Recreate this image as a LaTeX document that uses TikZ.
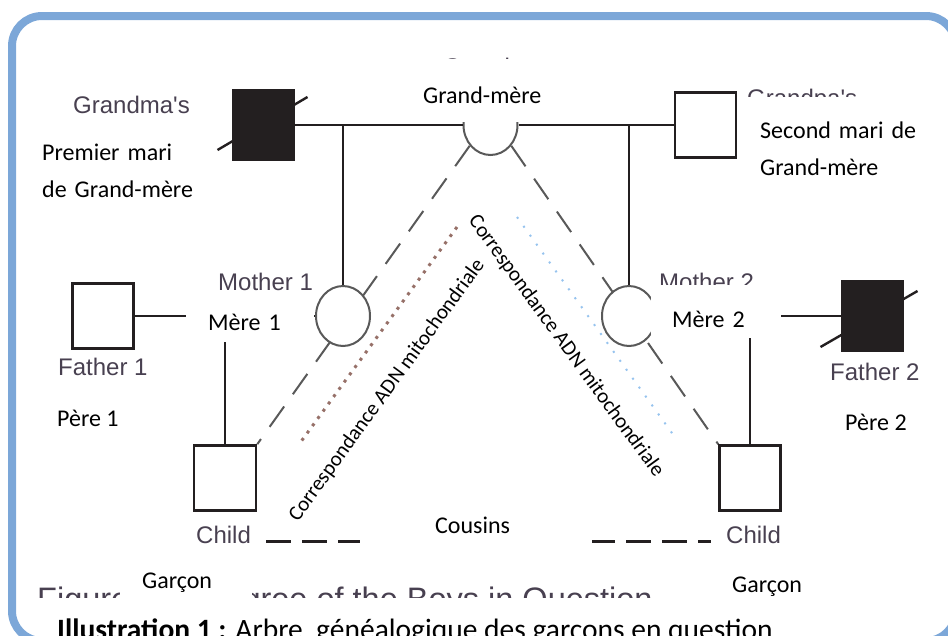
\documentclass[tikz,border=0pt]{standalone}
\usepackage{fontspec}
\setmainfont{Carlito}
\newfontfamily\engfont{Liberation Sans}
\usetikzlibrary{shapes.geometric, backgrounds}
\definecolor{frameblue}{RGB}{124,167,216}
\definecolor{inkblack}{RGB}{35,31,32}
\definecolor{oldtext}{RGB}{72,64,80}
\definecolor{mtbrown}{RGB}{150,112,104}
\definecolor{mtblue}{RGB}{150,195,238}
\tikzset{
  male/.style     = {draw=inkblack, line width=2.6pt, fill=white, shape=rectangle,
                     minimum width=61pt, minimum height=65pt, inner sep=0pt},
  maledead/.style = {male, fill=inkblack, minimum height=70pt},
  female/.style   = {draw=black!65, line width=2pt, fill=white, ellipse,
                     minimum width=54pt, minimum height=60pt, inner sep=0pt},
  link/.style     = {draw=inkblack, line width=2.6pt},
  slash/.style    = {draw=inkblack, line width=2.4pt},
  mtline/.style   = {draw=black!65, line width=2pt, dash pattern=on 25pt off 15pt},
  mtdotA/.style   = {draw=mtbrown, line width=3pt, dash pattern=on 3pt off 6pt},
  mtdotB/.style   = {draw=mtblue, line width=2pt, dash pattern=on 2pt off 9pt},
  cousin/.style   = {draw=inkblack, line width=3pt, dash pattern=on 25pt off 11pt},
  oldlbl/.style   = {font=\engfont\fontsize{24}{28}\selectfont, text=oldtext,
                     anchor=base west, inner sep=0pt},
  lbl/.style      = {font=\fontsize{24}{37}\selectfont, fill=white, align=left,
                     anchor=base west, inner ysep=0pt},
  mtlbl/.style    = {font=\fontsize{21}{25}\selectfont, anchor=base, inner sep=0pt},
}

\begin{document}
\begin{tikzpicture}[x=1pt, y=-1pt]
  \useasboundingbox (0,0) rectangle (948,635);
  % grandmother and her two husbands
  \node[maledead] (gf1) at (263.5,125) {};
  \node[female]   (gma) at (490.5,125) {};
  \node[male]     (gf2) at (705.5,125) {};
  % mothers and fathers
  \node[male]     (f1) at (103,316) {};
  \node[female]   (m1) at (343,316) {};
  \node[female]   (m2) at (629,316) {};
  \node[maledead] (f2) at (872.5,316) {};
  % the two boys
  \node[male, minimum width=62pt] (c1) at (225,478) {};
  \node[male]                     (c2) at (750,478) {};

  % old english labels (partly hidden)
  \node[oldlbl] (oGma)  at (73,113)  {Grandma's};
  \node[oldlbl] (oGtop) at (443,75)  {Grandma};
  \node[oldlbl] (oGpa)  at (747,106) {Grandpa's};
  \node[oldlbl] (oM1)   at (218,290) {Mother 1};
  \node[oldlbl] (oM2)   at (659,290) {Mother 2};
  \node[oldlbl] (oF1)   at (58,375)  {Father 1};
  \node[oldlbl] (oF2)   at (830,380) {Father 2};
  \node[oldlbl] (oC1)   at (196,543) {Child};
  \node[oldlbl] (oC2)   at (726,543) {Child};
  \node[oldlbl, font=\engfont\fontsize{32.5}{36}\selectfont] (oFig) at (37,610)
    {Figure 1. Pedigree of the Boys in Question};

  % pedigree lines
  \draw[link] (gf1) -- (gma);
  \draw[link] (gma) -- (gf2);
  \draw[link] (m1.north) -- (m1.north |- gma.center);
  \draw[link] (m2.north) -- (m2.north |- gma.center);
  \draw[link] (f1) -- (m1);
  \draw[link] (m2) -- (f2);
  \draw[link] (c1.north) -- (c1.north |- m1.center);
  \draw[link] (c2.north) -- (c2.north |- m2.center);
  \draw[slash] ([shift={(-46,25)}]gf1.center) -- ([shift={(44,-28)}]gf1.center);
  \draw[slash] ([shift={(-52,31)}]f2.center) -- ([shift={(45,-25)}]f2.center);
  \draw[cousin] ([shift={(9,30)}]c1.south east) -- ([shift={(-7,30)}]c2.south west);

  % mitochondrial lines
  \coordinate (dotA1) at (457,227);
  \coordinate (dotA2) at (300,443);
  \coordinate (dotB1) at (517,217);
  \coordinate (dotB2) at (677,440);
  \begin{scope}[on background layer]
    \draw[mtline] (gma.-135) -- (c1.north east);
    \draw[mtline] (gma.-45) -- (c2.north west);
    \draw[mtdotA] (dotA1) -- (dotA2);
    \draw[mtdotB] (dotB1) -- (dotB2);
  \end{scope}
  \node[mtlbl, rotate=54]  (mtL) at (391.5,393.5) {Correspondance ADN mitochondriale};
  \node[mtlbl, rotate=-54] (mtR) at (561.5,349.6) {Correspondance ADN mitochondriale};

  % french labels
  \node[lbl, inner xsep=20pt, text height=44pt, text depth=19pt] (tGma) at (403,103) {Grand-mère};
  \node[lbl, inner xsep=8pt, text width=160pt, text height=40pt, text depth=50pt] (tPm) at (34,160)
    {Premier mari\\de Grand-mère};
  \node[lbl, inner xsep=14pt, text width=170pt, text height=41pt, text depth=52pt] (tSm) at (746,138)
    {Second mari de\\Grand-mère};
  \node[lbl, inner xsep=22pt, text width=84pt, text height=38pt, text depth=12pt] (tM1) at (186,330) {Mère 1};
  \node[lbl, inner xsep=21pt, text width=88pt, text height=42pt, text depth=11pt] (tM2) at (651,327) {Mère 2};
  \node[lbl, inner xsep=6pt, text height=22pt, text depth=8pt] (tP1) at (51,426) {Père 1};
  \node[lbl, inner xsep=6pt, text height=22pt, text depth=8pt] (tP2) at (839,430) {Père 2};
  \node[lbl, inner xsep=75pt, text width=82pt, text height=28pt, text depth=22pt] (tCous) at (360,533) {Cousins};
  \node[lbl, inner xsep=25pt, text height=41pt, text depth=10pt, font=\fontsize{29.5}{35}\selectfont] (tCap) at (32,639)
    {\textbf{Illustration 1 :} Arbre\ \ généalogique des garçons en question};
  \node[lbl, inner xsep=22pt, text width=88pt, text height=28pt, text depth=12pt] (tBoy1) at (120,588) {Garçon};
  \node[lbl, inner xsep=20pt, text height=24pt, text depth=10pt] (tBoy2) at (712,592) {Garçon};

  % frame
  \draw[frameblue, line width=8pt, rounded corners=30pt] (12,16) rectangle (956,641);
\end{tikzpicture}
\end{document}
